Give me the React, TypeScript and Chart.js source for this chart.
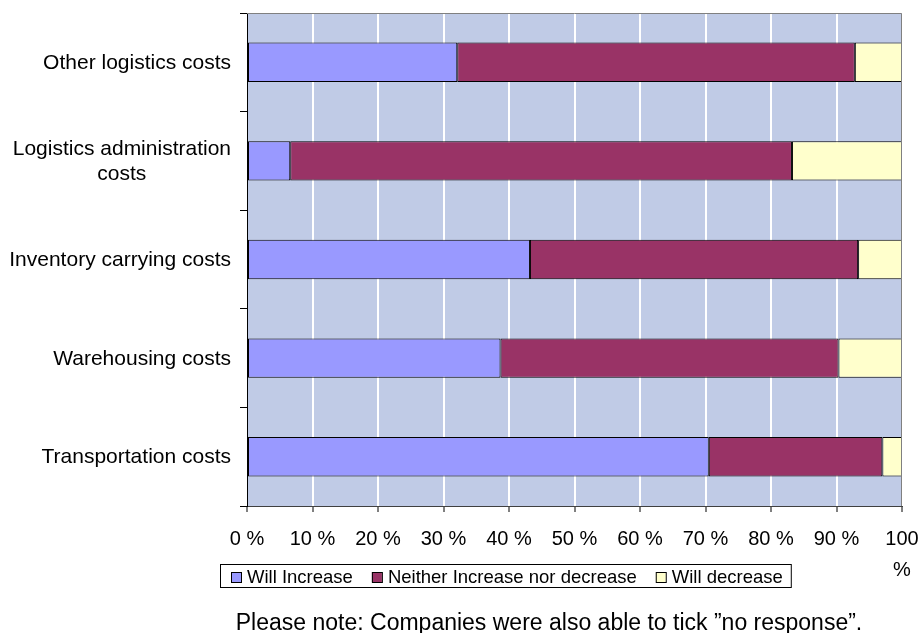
import { useEffect, useRef } from 'react';
import { Chart, registerables } from 'chart.js';

Chart.register(...registerables);

// Category labels, already split into the lines they are drawn on
const categories: string[][] = [
  ['Other logistics costs'],
  ['Logistics administration', 'costs'],
  ['Inventory carrying costs'],
  ['Warehousing costs'],
  ['Transportation costs'],
];

// Share of companies (%) per answer
const willIncrease = [32.1, 6.6, 43.2, 38.7, 70.5];
const neitherIncreaseNorDecrease = [60.7, 76.6, 50.1, 51.6, 26.5];
const willDecrease = [7.2, 16.8, 6.7, 9.7, 3.0];

const seriesNames = ['Will Increase', 'Neither Increase nor decrease', 'Will decrease'];
const xTickValues = [0, 10, 20, 30, 40, 50, 60, 70, 80, 90, 100];
const noteText = 'Please note: Companies were also able to tick \u201dno response\u201d.';

const FONT = '"Liberation Sans", Arial, sans-serif';
const COLORS = ['#9999FF', '#993366', '#FFFFCC'];
const PLOT_BG = '#C0CBE6';

const decorPlugin = {
  id: 'decor',
  beforeDraw(chart: any) {
    const { ctx, chartArea: a } = chart;
    ctx.save();
    ctx.fillStyle = PLOT_BG;
    ctx.fillRect(a.left, a.top, a.right - a.left, a.bottom - a.top);
    ctx.restore();
  },
  afterDraw(chart: any) {
    const { ctx, chartArea: a } = chart;
    const yScale = chart.scales.y;
    ctx.save();

    // grey frame on top and right of the plot
    ctx.strokeStyle = '#808080';
    ctx.lineWidth = 1;
    ctx.beginPath();
    ctx.moveTo(a.left, a.top + 0.5);
    ctx.lineTo(a.right - 0.5, a.top + 0.5);
    ctx.lineTo(a.right - 0.5, a.bottom);
    ctx.stroke();

    // category labels: a right-aligned block, lines centred inside it
    ctx.fillStyle = '#000';
    ctx.font = `21px ${FONT}`;
    ctx.textBaseline = 'middle';
    ctx.textAlign = 'center';
    const lineH = 25;
    const blockRight = 231;
    categories.forEach((lines, i) => {
      const yc = yScale.getPixelForValue(i) + 1;
      const w = Math.max(...lines.map((l) => ctx.measureText(l).width));
      const cx = blockRight - w / 2;
      lines.forEach((l, j) => {
        ctx.fillText(l, cx, yc + (j - (lines.length - 1) / 2) * lineH);
      });
    });

    // legend with a frame around it
    ctx.font = `18.5px ${FONT}`;
    ctx.textAlign = 'left';
    ctx.textBaseline = 'alphabetic';
    const boxLeft = 220;
    const boxTop = 564;
    const boxH = 23;
    let x = boxLeft + 11;
    chart.data.datasets.forEach((ds: any, i: number) => {
      ctx.fillStyle = ds.backgroundColor;
      ctx.fillRect(x, 572, 10, 10);
      ctx.strokeStyle = '#000';
      ctx.strokeRect(x + 0.5, 572.5, 10, 10);
      ctx.fillStyle = '#000';
      ctx.fillText(ds.label, x + 16, 583);
      const tw = ctx.measureText(ds.label).width;
      x = x + 16 + tw + (i < chart.data.datasets.length - 1 ? 19 : 8);
    });
    ctx.strokeStyle = '#000';
    ctx.strokeRect(boxLeft + 0.5, boxTop + 0.5, x - boxLeft, boxH);

    // footnote
    ctx.font = `23px ${FONT}`;
    ctx.textAlign = 'center';
    ctx.fillStyle = '#000';
    ctx.fillText(noteText, 549, 630);

    ctx.restore();
  },
};

export default function App() {
  const canvasRef = useRef<HTMLCanvasElement | null>(null);

  useEffect(() => {
    document.body.style.margin = '0';
    const canvas = canvasRef.current;
    if (!canvas) return;

    const chart = new Chart(canvas, {
      type: 'bar',
      data: {
        labels: categories.map((c) => c.join(' ')),
        datasets: [willIncrease, neitherIncreaseNorDecrease, willDecrease].map((data, i) => ({
          label: seriesNames[i],
          data,
          backgroundColor: COLORS[i],
          borderColor: '#000',
          borderWidth: 1,
          borderSkipped: false,
          barPercentage: 0.4,
          categoryPercentage: 1,
        })),
      },
      options: {
        indexAxis: 'y',
        responsive: false,
        animation: false,
        layout: { padding: { top: 13, right: 19, left: 0, bottom: 0 } },
        plugins: {
          legend: { display: false },
          tooltip: { enabled: false },
        },
        scales: {
          x: {
            stacked: true,
            min: 0,
            max: 100,
            afterBuildTicks: (scale: any) => {
              scale.ticks = xTickValues.map((v) => ({ value: v }));
            },
            afterFit: (scale: any) => {
              scale.height = 127;
              scale.paddingLeft = 0;
              scale.paddingRight = 0;
            },
            ticks: {
              autoSkip: false,
              maxRotation: 0,
              padding: 12,
              color: '#000',
              font: { family: FONT, size: 20, lineHeight: 1.55 },
              callback: (v: any) => (v === 100 ? ['100', '%'] : `${v} %`),
            },
            grid: {
              color: (ctx: any) =>
                ctx.tick && (ctx.tick.value === 0 || ctx.tick.value === 100) ? 'rgba(0,0,0,0)' : '#FFFFFF',
              lineWidth: 2,
              drawTicks: true,
              tickLength: 6,
              tickColor: '#000',
              tickWidth: 1,
            },
            border: { display: true, color: '#404040', width: 1 },
          },
          y: {
            stacked: true,
            afterFit: (scale: any) => {
              scale.width = 247;
            },
            ticks: { display: false },
            grid: {
              offset: true,
              drawOnChartArea: false,
              drawTicks: true,
              tickLength: 7,
              tickColor: '#000',
              tickWidth: 1,
              color: '#000',
            },
            border: { display: true, color: '#000', width: 1 },
          },
        },
      },
      plugins: [decorPlugin],
    });

    return () => chart.destroy();
  }, []);

  return (
    <div style={{ width: 921, height: 633, background: '#fff' }}>
      <canvas ref={canvasRef} width={921} height={633} style={{ display: 'block' }} />
    </div>
  );
}
